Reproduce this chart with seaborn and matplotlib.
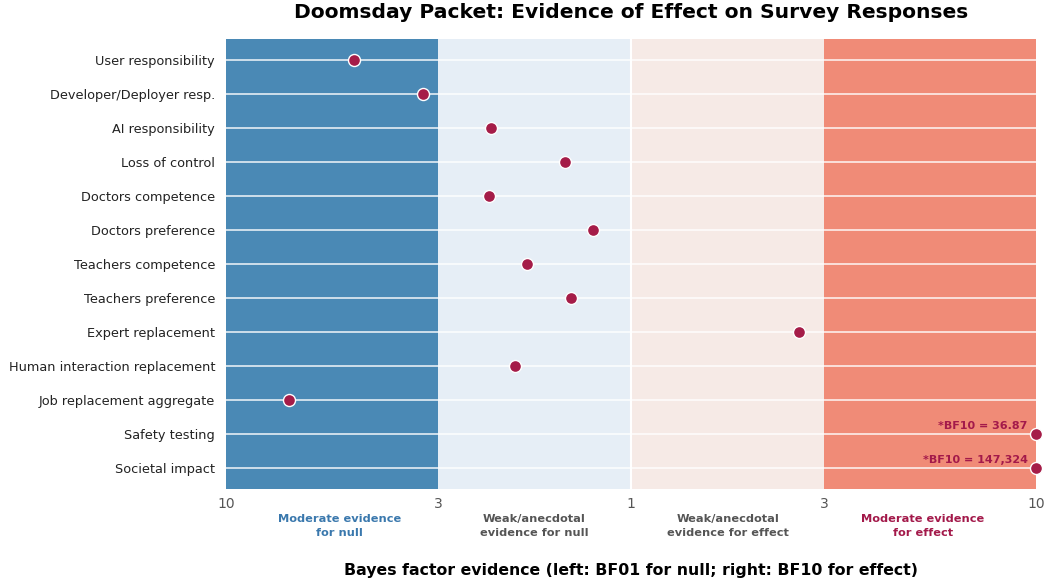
import matplotlib
matplotlib.use("Agg")
import matplotlib.pyplot as plt
import numpy as np
import pandas as pd
import seaborn as sns

measures = [
    "User responsibility",
    "Developer/Deployer resp.",
    "AI responsibility",
    "Loss of control",
    "Doctors competence",
    "Doctors preference",
    "Teachers competence",
    "Teachers preference",
    "Expert replacement",
    "Human interaction replacement",
    "Job replacement aggregate",
    "Safety testing",
    "Societal impact",
]
# BF10 per measure (values < 1 mean evidence for null, BF01 = 1/BF10)
bf10 = [1 / 4.83, 1 / 3.26, 1 / 2.22, 1 / 1.46, 1 / 2.24, 1 / 1.24, 1 / 1.81,
        1 / 1.41, 2.60, 1 / 1.94, 1 / 7.0, 36.87, 147324]
labels_clipped = {"Safety testing": "*BF10 = 36.87", "Societal impact": "*BF10 = 147,324"}

band_edges = [0.1, 1 / 3, 1, 3, 10]
band_colors = ["#4a89b5", "#e6eef6", "#f6eae6", "#f08b77"]
band_names = ["Moderate evidence\nfor null", "Weak/anecdotal\nevidence for null",
              "Weak/anecdotal\nevidence for effect", "Moderate evidence\nfor effect"]
band_label_pos = [10 ** -0.72, 10 ** -0.24, 10 ** 0.24, 10 ** 0.72]
band_text_colors = ["#3a78ad", "#555555", "#555555", "#a3194a"]

df = pd.DataFrame({"measure": measures, "bf10": bf10})
df["plot_x"] = df["bf10"].clip(upper=10)

sns.set_theme(style="white")
fig, ax = plt.subplots(figsize=(10.47, 5.84), dpi=100)
fig.subplots_adjust(left=0.216, right=0.9895, top=0.933, bottom=0.163)

for lo, hi, c in zip(band_edges[:-1], band_edges[1:], band_colors):
    ax.axvspan(lo, hi, color=c, zorder=0, lw=0)
ax.axvline(1, color="white", lw=1.5, zorder=1)
for i in range(len(measures)):
    ax.axhline(i, color="white", lw=1.2, alpha=0.85, zorder=1)

sns.scatterplot(data=df, x="plot_x", y="measure", ax=ax, s=75, color="#a51c48",
                edgecolor="white", linewidth=1, zorder=3, clip_on=False)

ax.set_xscale("log")
ax.set_xlim(0.1, 10)
ax.set_ylim(len(measures) - 0.38, -0.62)
ax.set_xticks([0.1, 1 / 3, 1, 3, 10])
ax.set_xticklabels(["10", "3", "1", "3", "10"])
ax.minorticks_off()
ax.tick_params(axis="x", labelsize=10, colors="#555555", pad=6, length=0)
ax.tick_params(axis="y", labelsize=9.3, colors="#222222", length=0, pad=8)
ax.set_ylabel("")
ax.set_xlabel("Bayes factor evidence (left: BF01 for null; right: BF10 for effect)",
              fontsize=11.3, fontweight="bold", labelpad=37, color="black")
for s in ax.spines.values():
    s.set_visible(False)

for i, m in enumerate(measures):
    if m in labels_clipped:
        ax.annotate(labels_clipped[m], xy=(10, i), xytext=(-6, 2),
                    textcoords="offset points", ha="right", va="bottom",
                    fontsize=8, fontweight="bold", color="#a3194a")

for xm, name, c in zip(band_label_pos, band_names, band_text_colors):
    ax.text(xm, -0.055, name, transform=ax.get_xaxis_transform(), ha="center", va="top",
            fontsize=8.2, fontweight="bold", color=c, linespacing=1.5)

ax.set_title("Doomsday Packet: Evidence of Effect on Survey Responses",
             fontsize=14.6, fontweight="bold", pad=15, color="black")

fig.savefig("out.png", dpi=100)
